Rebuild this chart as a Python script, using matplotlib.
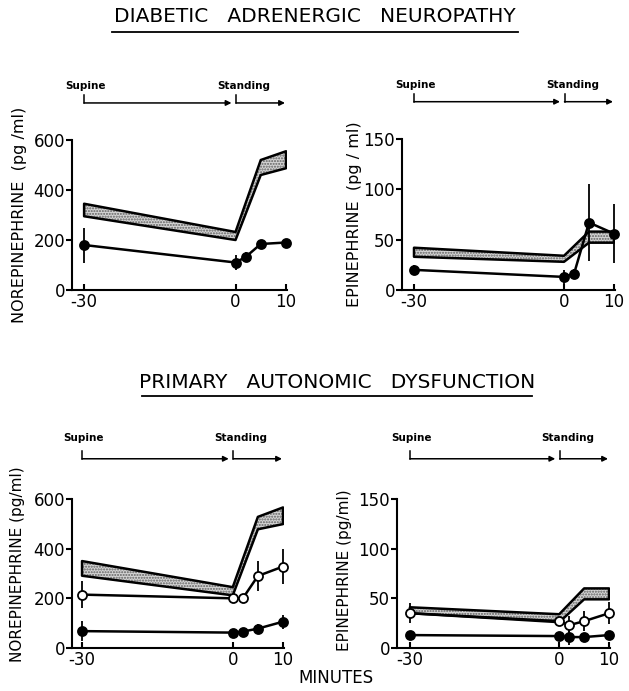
import numpy as np
import matplotlib
matplotlib.use('Agg')
import matplotlib.pyplot as plt
from matplotlib.lines import Line2D
import matplotlib.transforms as mtransforms

# time points (minutes)
t = [-30, 0, 2, 5, 10]
band_t = [-30, 0, 5, 10]
xticks = [-30, 0, 10]

# diabetic adrenergic neuropathy
dan_ne_hi = [345, 232, 520, 555]
dan_ne_lo = [295, 200, 460, 487]
dan_ne = [180, 110, 132, 184, 190]
dan_ne_err = [70, 30, 20, 12, 15]

dan_epi_hi = [42, 34, 58, 58]
dan_epi_lo = [33, 28, 47, 47]
dan_epi = [20, 13, 16, 67, 56]
dan_epi_err = [5, 7, 5, 38, 29]

# primary autonomic dysfunction
pad_ne_hi = [350, 245, 528, 566]
pad_ne_lo = [291, 212, 478, 499]
pad_ne_open = [215, 200, 200, 290, 328]
pad_ne_open_err = [55, 15, 15, 60, 70]
pad_ne_closed = [68, 62, 66, 78, 106]
pad_ne_closed_err = [40, 15, 12, 20, 28]

pad_epi_hi = [41, 34, 60, 60]
pad_epi_lo = [35, 26, 49, 49]
pad_epi_open = [35, 27, 23, 27, 35]
pad_epi_open_err = [10, 4, 9, 10, 11]
pad_epi_closed = [13, 12, 11, 11, 13]
pad_epi_closed_err = [3, 2, 8, 4, 3]

W, H = 629, 691
fig = plt.figure(figsize=(W/100, H/100), dpi=100)
fig.patch.set_facecolor('white')

def px_axes(l, r, b, t_):
    return fig.add_axes([l/W, 1-b/H, (r-l)/W, (b-t_)/H])

axTL = px_axes(72, 287, 290, 140)
axTR = px_axes(402, 615, 290, 139)
axBL = px_axes(72, 284, 648, 499)
axBR = px_axes(397, 610, 648, 499)

LW = 1.8

def setup(ax, xleft, ymax, yticks, ylabel, labx, laby, arrow_y, text_y, labsize):
    ax.set_xlim(xleft, 10.2)
    ax.set_ylim(0, ymax)
    for s in ['top', 'right']:
        ax.spines[s].set_visible(False)
    for s in ['left', 'bottom']:
        ax.spines[s].set_linewidth(1.5)
    ax.set_xticks(xticks)
    ax.set_xticklabels(['-30', '0', '10'])
    ax.set_yticks(yticks)
    ax.tick_params(axis='x', direction='in', length=4, width=1.5, labelsize=12, pad=2)
    ax.tick_params(axis='y', direction='out', length=4, width=1.5, labelsize=12, pad=1)
    ax.set_ylabel(ylabel, fontsize=labsize)
    ax.yaxis.set_label_coords(labx, laby)
    tr = mtransforms.blended_transform_factory(ax.transData, ax.transAxes)
    # supine arrow
    ax.add_line(Line2D([-30, -30], [arrow_y, arrow_y + 0.05], transform=tr, color='black', lw=1.1, clip_on=False))
    ax.annotate('', xy=(-0.8, arrow_y), xytext=(-30, arrow_y), xycoords=tr, textcoords=tr,
                arrowprops=dict(arrowstyle='-|>', color='black', lw=1.1, mutation_scale=8, shrinkA=0, shrinkB=0))
    ax.add_line(Line2D([0.1, 0.1], [arrow_y, arrow_y + 0.05], transform=tr, color='black', lw=1.1, clip_on=False))
    ax.annotate('', xy=(9.8, arrow_y), xytext=(0.1, arrow_y), xycoords=tr, textcoords=tr,
                arrowprops=dict(arrowstyle='-|>', color='black', lw=1.1, mutation_scale=8, shrinkA=0, shrinkB=0))
    ax.text(-33.8, text_y, 'Supine', transform=tr, fontsize=7.5, fontweight='bold', ha='left', va='center')
    ax.text(-3.6, text_y, 'Standing', transform=tr, fontsize=7.5, fontweight='bold', ha='left', va='center')

def band(ax, hi, lo):
    ax.fill_between(band_t, lo, hi, facecolor='#d4d4d4', edgecolor='#606060', hatch='......', linewidth=0, zorder=2)
    ax.fill_between(band_t, lo, hi, facecolor='none', edgecolor='black', linewidth=LW, zorder=3)

def series(ax, y, err, fill):
    ax.errorbar(t, y, yerr=err, color='black', lw=LW, elinewidth=1.3, capsize=0,
                marker='o', markersize=6.5, markerfacecolor=fill, markeredgecolor='black',
                markeredgewidth=1.3, zorder=4, clip_on=False)

setup(axTL, -32.4, 600, [0, 200, 400, 600], 'NOREPINEPHRINE  (pg /ml)', -0.21, 0.5, 1.247, 1.36, 11.5)
band(axTL, dan_ne_hi, dan_ne_lo)
series(axTL, dan_ne, dan_ne_err, 'black')

setup(axTR, -32.4, 150, [0, 50, 100, 150], 'EPINEPHRINE  (pg / ml)', -0.19, 0.5, 1.247, 1.36, 11.5)
band(axTR, dan_epi_hi, dan_epi_lo)
series(axTR, dan_epi, dan_epi_err, 'black')

setup(axBL, -32.0, 600, [0, 200, 400, 600], 'NOREPINEPHRINE (pg/ml)', -0.22, 0.56, 1.27, 1.41, 11)
band(axBL, pad_ne_hi, pad_ne_lo)
series(axBL, pad_ne_open, pad_ne_open_err, 'white')
series(axBL, pad_ne_closed, pad_ne_closed_err, 'black')

setup(axBR, -32.6, 150, [0, 50, 100, 150], 'EPINEPHRINE (pg/ml)', -0.21, 0.52, 1.27, 1.41, 11)
band(axBR, pad_epi_hi, pad_epi_lo)
series(axBR, pad_epi_open, pad_epi_open_err, 'white')
series(axBR, pad_epi_closed, pad_epi_closed_err, 'black')

# section titles with underline
fig.text(315/W, 1-16/H, 'DIABETIC   ADRENERGIC   NEUROPATHY', fontsize=14.5, ha='center', va='center')
fig.add_artist(Line2D([112/W, 518/W], [1-32/H, 1-32/H], color='black', lw=1.3))
fig.text(337/W, 1-383/H, 'PRIMARY   AUTONOMIC   DYSFUNCTION', fontsize=14.5, ha='center', va='center')
fig.add_artist(Line2D([142/W, 532/W], [1-396/H, 1-396/H], color='black', lw=1.3))

fig.text(336/W, 1-678/H, 'MINUTES', fontsize=12, ha='center', va='center')

plt.savefig('out.png', dpi=100)
